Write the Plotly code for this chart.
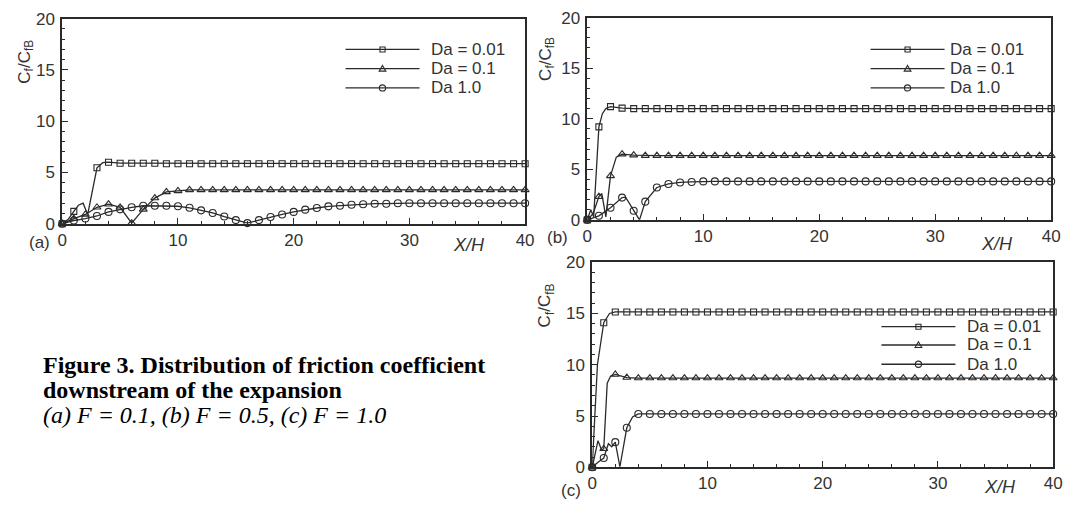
import plotly.graph_objects as go

# ---------------- data ----------------
# Panel (a)  F = 0.1
A_SQ_X = [0, 0.5, 1, 1.4, 1.8, 2.2, 3, 3.5, 4, 5, 6, 7, 8, 9, 10, 11, 12, 13, 14, 15, 16, 17, 18, 19, 20,
          21, 22, 23, 24, 25, 26, 27, 28, 29, 30, 31, 32, 33, 34, 35, 36, 37, 38, 39, 40]
A_SQ_Y = [0, 0.4, 1.2, 1.8, 2.0, 0.9, 5.45, 5.95, 6.0, 5.9, 5.9, 5.9, 5.9, 5.85, 5.85, 5.85, 5.85, 5.85, 5.85,
          5.85, 5.85, 5.85, 5.85, 5.85, 5.85, 5.85, 5.85, 5.85, 5.85, 5.85, 5.85, 5.85, 5.85, 5.85, 5.85,
          5.85, 5.85, 5.85, 5.85, 5.85, 5.85, 5.85, 5.85, 5.85, 5.85]
A_TR_X = [0, 1, 2, 3, 4, 5, 6, 7, 8, 9, 10, 11, 12, 13, 14, 15, 16, 17, 18, 19, 20,
          21, 22, 23, 24, 25, 26, 27, 28, 29, 30, 31, 32, 33, 34, 35, 36, 37, 38, 39, 40]
A_TR_Y = [0, 0.5, 0.9, 1.6, 1.9, 1.6, 0.05, 1.4, 2.5, 3.1, 3.2, 3.3, 3.3, 3.3, 3.3, 3.3, 3.3, 3.3, 3.3, 3.3,
          3.3, 3.3, 3.3, 3.3, 3.3, 3.3, 3.3, 3.3, 3.3, 3.3, 3.3, 3.3, 3.3, 3.3, 3.3, 3.3, 3.3, 3.3, 3.3, 3.3, 3.3]
A_CI_X = [0, 1, 2, 3, 4, 5, 6, 7, 8, 9, 10, 11, 12, 13, 14, 15, 16, 17, 18, 19, 20,
          21, 22, 23, 24, 25, 26, 27, 28, 29, 30, 31, 32, 33, 34, 35, 36, 37, 38, 39, 40]
A_CI_Y = [0, 0.3, 0.5, 0.75, 1.15, 1.4, 1.6, 1.75, 1.75, 1.75, 1.7, 1.55, 1.3, 1.05, 0.7, 0.35, 0.06,
          0.35, 0.66, 0.9, 1.15, 1.37, 1.53, 1.69, 1.75, 1.85, 1.9, 1.95, 1.95,
          2.0, 2.0, 2.0, 2.0, 2.0, 2.0, 2.0, 2.0, 2.0, 2.0, 2.0, 2.0]

# Panel (b)  F = 0.5
B_SQ_X = [0, 0.3, 0.55, 1, 1.3, 1.6, 2, 3, 4, 5, 6, 7, 8, 9, 10, 11, 12, 13, 14, 15, 16, 17, 18, 19, 20,
          21, 22, 23, 24, 25, 26, 27, 28, 29, 30, 31, 32, 33, 34, 35, 36, 37, 38, 39, 40]
B_SQ_Y = [0, 1.0, 0.3, 9.2, 10.5, 11.0, 11.2, 11.05, 11.0, 11.0, 11.0, 11.0, 11.0, 11.0, 11.0, 11.0, 11.0,
          11.0, 11.0, 11.0, 11.0, 11.0, 11.0, 11.0, 11.0, 11.0, 11.0, 11.0, 11.0, 11.0, 11.0, 11.0, 11.0,
          11.0, 11.0, 11.0, 11.0, 11.0, 11.0, 11.0, 11.0, 11.0, 11.0, 11.0, 11.0]
B_TR_X = [0, 0.5, 1, 1.25, 1.6, 2, 2.5, 3, 4, 5, 6, 7, 8, 9, 10, 11, 12, 13, 14, 15, 16, 17, 18, 19, 20,
          21, 22, 23, 24, 25, 26, 27, 28, 29, 30, 31, 32, 33, 34, 35, 36, 37, 38, 39, 40]
B_TR_Y = [0, 0.6, 2.3, 2.6, 0.3, 4.35, 6.2, 6.5, 6.4, 6.35, 6.35, 6.35, 6.35, 6.35, 6.35, 6.35, 6.35, 6.35,
          6.35, 6.35, 6.35, 6.35, 6.35, 6.35, 6.35, 6.35, 6.35, 6.35, 6.35, 6.35, 6.35, 6.35, 6.35, 6.35,
          6.35, 6.35, 6.35, 6.35, 6.35, 6.35, 6.35, 6.35, 6.35, 6.35, 6.35]
B_CI_X = [0, 1, 2, 3, 3.3, 4, 4.5, 5, 6, 7, 8, 9, 10, 11, 12, 13, 14, 15, 16, 17, 18, 19, 20,
          21, 22, 23, 24, 25, 26, 27, 28, 29, 30, 31, 32, 33, 34, 35, 36, 37, 38, 39, 40]
B_CI_Y = [0, 0.4, 1.2, 2.2, 2.25, 0.9, 0.0, 1.8, 3.2, 3.55, 3.7, 3.75, 3.8, 3.8, 3.8, 3.8, 3.8, 3.8, 3.8,
          3.8, 3.8, 3.8, 3.8, 3.8, 3.8, 3.8, 3.8, 3.8, 3.8, 3.8, 3.8, 3.8, 3.8, 3.8, 3.8, 3.8, 3.8, 3.8,
          3.8, 3.8, 3.8, 3.8, 3.8]

# Panel (c)  F = 1.0
C_SQ_X = [0, 0.45, 1, 1.5, 2, 3, 4, 5, 6, 7, 8, 9, 10, 11, 12, 13, 14, 15, 16, 17, 18, 19, 20,
          21, 22, 23, 24, 25, 26, 27, 28, 29, 30, 31, 32, 33, 34, 35, 36, 37, 38, 39, 40]
C_SQ_Y = [0, 10.0, 14.1, 15.0, 15.15, 15.15, 15.15, 15.15, 15.15, 15.15, 15.15, 15.15, 15.15, 15.15,
          15.15, 15.15, 15.15, 15.15, 15.15, 15.15, 15.15, 15.15, 15.15, 15.15, 15.15, 15.15, 15.15,
          15.15, 15.15, 15.15, 15.15, 15.15, 15.15, 15.15, 15.15, 15.15, 15.15, 15.15, 15.15, 15.15,
          15.15, 15.15, 15.15]
C_TR_X = [0, 0.5, 0.8, 1, 1.3, 1.6, 2, 3, 4, 5, 6, 7, 8, 9, 10, 11, 12, 13, 14, 15, 16, 17, 18, 19, 20,
          21, 22, 23, 24, 25, 26, 27, 28, 29, 30, 31, 32, 33, 34, 35, 36, 37, 38, 39, 40]
C_TR_Y = [0, 2.6, 1.7, 1.8, 8.2, 8.9, 9.05, 8.75, 8.7, 8.7, 8.7, 8.7, 8.7, 8.7, 8.7, 8.7, 8.7, 8.7, 8.7,
          8.7, 8.7, 8.7, 8.7, 8.7, 8.7, 8.7, 8.7, 8.7, 8.7, 8.7, 8.7, 8.7, 8.7, 8.7, 8.7, 8.7, 8.7, 8.7,
          8.7, 8.7, 8.7, 8.7, 8.7, 8.7, 8.7]
C_CI_X = [0, 0.5, 1, 1.4, 1.7, 2, 2.4, 3, 3.5, 4, 5, 6, 7, 8, 9, 10, 11, 12, 13, 14, 15, 16, 17, 18, 19, 20,
          21, 22, 23, 24, 25, 26, 27, 28, 29, 30, 31, 32, 33, 34, 35, 36, 37, 38, 39, 40]
C_CI_Y = [0, 0.5, 0.9, 2.3, 2.0, 2.45, 0.05, 3.85, 4.9, 5.2, 5.2, 5.2, 5.2, 5.2, 5.2, 5.2, 5.2, 5.2, 5.2,
          5.2, 5.2, 5.2, 5.2, 5.2, 5.2, 5.2, 5.2, 5.2, 5.2, 5.2, 5.2, 5.2, 5.2, 5.2, 5.2, 5.2, 5.2, 5.2,
          5.2, 5.2, 5.2, 5.2, 5.2, 5.2, 5.2, 5.2]

SERIES_NAMES = ["Da = 0.01", "Da = 0.1", "Da 1.0"]
PANEL_LABELS = ["(a)", "(b)", "(c)"]
X_TICKS = [0, 10, 20, 30, 40]
Y_TICKS = [0, 5, 10, 15, 20]
Y_TITLE = "C<sub>f</sub>/C<sub>fB</sub>"
X_TITLE = "<i>X/H</i>"
CAPTION_1 = "<b>Figure 3. Distribution of friction coefficient</b>"
CAPTION_2 = "<b>downstream of the expansion</b>"
CAPTION_3 = "<i>(a) F = 0.1, (b) F = 0.5, (c) F = 1.0</i>"

# ---------------- layout helpers ----------------
W, H = 1073, 510
INK = "#2a2a2a"
TXT = "#333333"
SANS = "Liberation Sans, Arial, sans-serif"
SERIF = "Liberation Serif, Times New Roman, serif"


def PX(x):
    return x / W


def PY(y):
    return 1 - y / H


SYMBOLS = ["square-open", "triangle-up-open", "circle-open"]
SIZES = [6, 7, 7]

panels = [
    dict(data=[(A_SQ_X, A_SQ_Y), (A_TR_X, A_TR_Y), (A_CI_X, A_CI_Y)],
         xd=(58, 527), yd=(10, 223), ax="",
         leg=dict(x0=345, x1=420, tx=430, rows=[42, 62, 82]),
         ytitle=(21, 55), xtitle=(470, 245), plabel=(35, 243)),
    dict(data=[(B_SQ_X, B_SQ_Y), (B_TR_X, B_TR_Y), (B_CI_X, B_CI_Y)],
         xd=(590, 1060), yd=(9, 219), ax="2",
         leg=dict(x0=877, x1=952, tx=955, rows=[42, 62, 82]),
         ytitle=(549, 52), xtitle=(1005, 244), plabel=(560, 237)),
    dict(data=[(C_SQ_X, C_SQ_Y), (C_TR_X, C_TR_Y), (C_CI_X, C_CI_Y)],
         xd=(595, 1062), yd=(263, 476), ax="3",
         leg=dict(x0=888, x1=963, tx=973, rows=[330, 349, 369]),
         ytitle=(548, 308), xtitle=(1008, 497), plabel=(573, 500)),
]

fig = go.Figure()
layout = dict(width=W, height=H, autosize=False, margin=dict(l=0, r=0, t=0, b=0),
              paper_bgcolor="white", plot_bgcolor="white", showlegend=False,
              annotations=[], shapes=[])


def legend_glyph(kind, cx, cy):
    """Open marker glyph for the hand-drawn legend key, in paper coordinates."""
    style = dict(xref="paper", yref="paper", line=dict(color=INK, width=1.1),
                 fillcolor="rgba(0,0,0,0)")
    if kind == 0:
        r = 2.6
        return dict(style, type="rect", x0=PX(cx - r), x1=PX(cx + r), y0=PY(cy + r), y1=PY(cy - r))
    if kind == 1:
        r = 3.4
        path = "M{},{} L{},{} L{},{} Z".format(PX(cx), PY(cy - r), PX(cx + r), PY(cy + r * 0.75),
                                               PX(cx - r), PY(cy + r * 0.75))
        return dict(style, type="path", path=path)
    r = 3.2
    return dict(style, type="circle", x0=PX(cx - r), x1=PX(cx + r), y0=PY(cy + r), y1=PY(cy - r))


for pi, p in enumerate(panels):
    for k, (xs, ys) in enumerate(p["data"]):
        on_grid = [float(v).is_integer() for v in xs]
        fig.add_trace(go.Scatter(
            x=xs, y=ys, mode="lines+markers", name=SERIES_NAMES[k],
            xaxis="x" + p["ax"], yaxis="y" + p["ax"],
            line=dict(color=INK, width=1.3),
            marker=dict(symbol=SYMBOLS[k], size=[SIZES[k] if g else 0 for g in on_grid],
                        opacity=[1 if g else 0 for g in on_grid],
                        color=INK, line=dict(color=INK, width=1.1)),
            cliponaxis=False, hoverinfo="x+y"))

    axis_common = dict(showline=True, linewidth=1.6, linecolor=INK, mirror=True,
                       showgrid=False, zeroline=False, ticks="inside", ticklen=6,
                       tickwidth=1.2, tickcolor=INK,
                       tickfont=dict(family=SANS, size=17, color=TXT))
    layout["xaxis" + p["ax"]] = dict(
        axis_common, domain=[PX(p["xd"][0]), PX(p["xd"][1])], range=[0, 40],
        anchor="y" + p["ax"], tickvals=X_TICKS,
        minor=dict(dtick=2, ticks="inside", ticklen=3, tickwidth=1, tickcolor=INK))
    layout["yaxis" + p["ax"]] = dict(
        axis_common, domain=[PY(p["yd"][1]), PY(p["yd"][0])], range=[0, 20],
        anchor="x" + p["ax"], tickvals=Y_TICKS, ticklabelstandoff=2,
        minor=dict(dtick=1, ticks="inside", ticklen=3, tickwidth=1, tickcolor=INK))

    # hand-drawn legend key (long line samples, tight row spacing as in the reference)
    lg = p["leg"]
    for k, ry in enumerate(lg["rows"]):
        layout["shapes"].append(dict(type="line", xref="paper", yref="paper",
                                     x0=PX(lg["x0"]), x1=PX(lg["x1"]), y0=PY(ry), y1=PY(ry),
                                     line=dict(color=INK, width=1.3)))
        layout["shapes"].append(legend_glyph(k, (lg["x0"] + lg["x1"]) / 2, ry))
        layout["annotations"].append(dict(
            text=SERIES_NAMES[k], x=PX(lg["tx"]), y=PY(ry), xref="paper", yref="paper",
            xanchor="left", yanchor="middle", showarrow=False,
            font=dict(family=SANS, size=17, color=TXT)))

    layout["annotations"] += [
        dict(text=Y_TITLE, x=PX(p["ytitle"][0]), y=PY(p["ytitle"][1]), xref="paper", yref="paper",
             xanchor="center", yanchor="middle", textangle=-90, showarrow=False,
             font=dict(family=SANS, size=17, color=TXT)),
        dict(text=X_TITLE, x=PX(p["xtitle"][0]), y=PY(p["xtitle"][1]), xref="paper", yref="paper",
             xanchor="center", yanchor="middle", showarrow=False,
             font=dict(family=SANS, size=18, color=TXT)),
        dict(text=PANEL_LABELS[pi], x=PX(p["plabel"][0]), y=PY(p["plabel"][1]),
             xref="paper", yref="paper", xanchor="center", yanchor="middle", showarrow=False,
             font=dict(family=SANS, size=17, color=TXT)),
    ]

for txt, yy in [(CAPTION_1, 370), (CAPTION_2, 396), (CAPTION_3, 422)]:
    layout["annotations"].append(dict(text=txt, x=PX(36), y=PY(yy), xref="paper", yref="paper",
                                      xanchor="left", yanchor="middle", showarrow=False,
                                      font=dict(family=SERIF, size=24, color="black")))

fig.update_layout(**layout)
# the page's default 8px body margin would shift the figure; remove it
fig.write_html("out.html", config={"displayModeBar": False},
               post_script="document.body.style.margin='0px';")
